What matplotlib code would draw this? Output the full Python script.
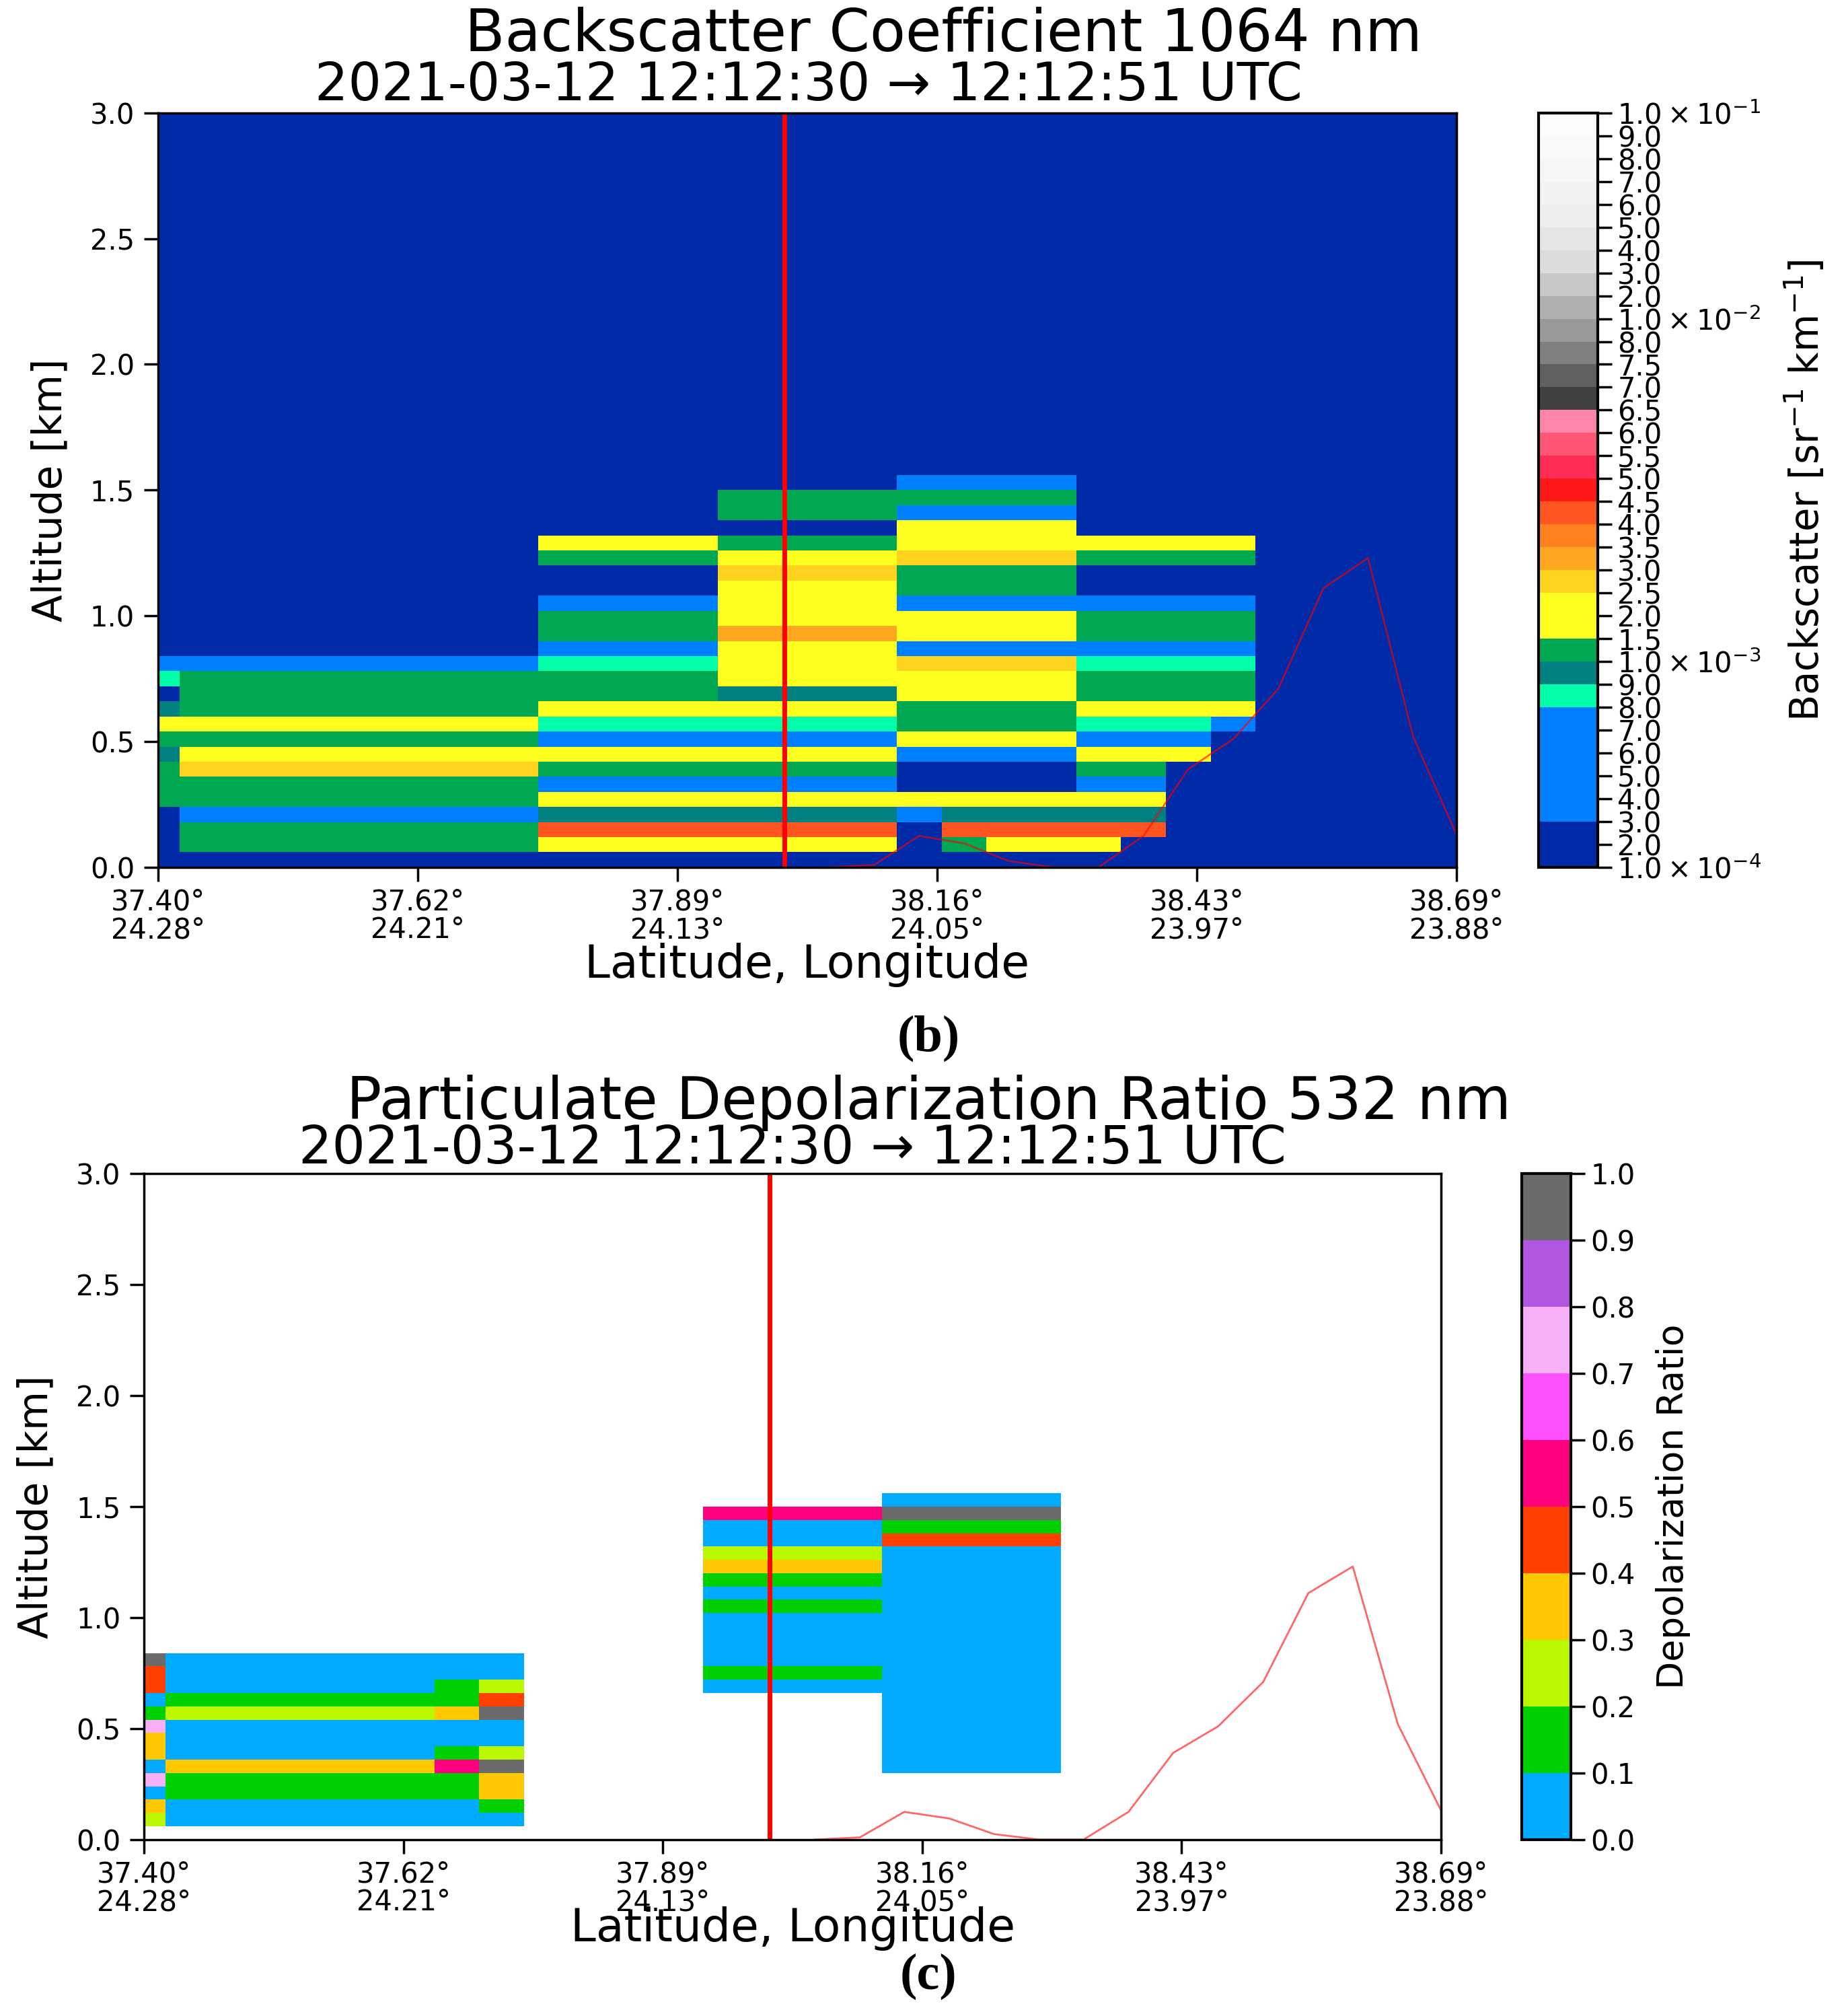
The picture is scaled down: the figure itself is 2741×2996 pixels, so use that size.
import numpy as np
import matplotlib
matplotlib.use("Agg")
import matplotlib.pyplot as plt
from matplotlib.colors import ListedColormap, BoundaryNorm

# ---------------- data ----------------
bin_km = 0.06          # vertical bin size [km]
n_bins = 50            # 0 - 3 km

# x axis: seconds after 12:12:30 UTC
tick_s = [0.0, 4.2, 8.4, 12.6, 16.8, 21.0]
tick_lat = ['37.40°', '37.62°', '37.89°', '38.16°', '38.43°', '38.69°']
tick_lon = ['24.28°', '24.21°', '24.13°', '24.05°', '23.97°', '23.88°']

# backscatter 1064 nm, profiles between these times, values per 60 m bin from ground
# units 1e-3 sr-1 km-1
bsc_edges_s = [0.0, 0.35, 6.15, 9.05, 11.95, 12.675, 13.40, 14.85,
               15.575, 16.30, 17.025, 17.75, 21.0]
bsc_p0 = [0.15, 0.15, 0.15, 0.15, 1.25, 1.25, 1.25, 0.95, 1.25, 1.8, 0.95, 0.15, 0.85, 0.5]
bsc_p1 = [0.15, 1.25, 1.25, 0.5, 1.25, 1.25, 2.75, 1.8, 1.25, 1.8, 1.25, 1.25, 1.25, 0.5]
bsc_p2 = [0.15, 1.8, 4.25, 0.95, 1.8, 0.5, 1.25, 1.8, 0.5, 0.85, 1.8, 1.25, 1.25, 0.85,
          0.5, 1.25, 1.25, 0.5, 0.15, 0.15, 1.25, 1.8]
bsc_p3 = [0.15, 1.8, 4.25, 0.95, 1.8, 0.5, 1.25, 1.8, 0.5, 0.85, 1.8, 0.95, 1.8, 1.8,
          1.8, 3.25, 1.8, 1.8, 1.8, 2.75, 1.8, 1.25, 0.15, 1.25, 1.25]
bsc_p4a = [0.15, 0.15, 0.15, 0.5, 1.8, 0.15, 0.15, 0.5, 1.8, 1.25, 1.25, 1.8, 1.8, 2.75,
           0.5, 1.8, 1.8, 0.5, 1.25, 1.25, 2.75, 1.8, 1.8, 0.5, 1.25, 0.5]
bsc_p4b = [0.15, 1.25, 4.25, 0.95, 1.8, 0.15, 0.15, 0.5, 1.8, 1.25, 1.25, 1.8, 1.8, 2.75,
           0.5, 1.8, 1.8, 0.5, 1.25, 1.25, 2.75, 1.8, 1.8, 0.5, 1.25, 0.5]
bsc_p4c = [0.15, 1.8, 4.25, 0.95, 1.8, 0.15, 0.15, 0.5, 1.8, 1.25, 1.25, 1.8, 1.8, 2.75,
           0.5, 1.8, 1.8, 0.5, 1.25, 1.25, 2.75, 1.8, 1.8, 0.5, 1.25, 0.5]
bsc_p5a = [0.15, 1.8, 4.25, 0.95, 1.8, 0.5, 1.25, 1.8, 0.5, 0.85, 1.8, 1.25, 1.25, 0.85,
           0.5, 1.25, 1.25, 0.5, 0.15, 0.15, 1.25, 1.8]
bsc_p5b = [0.15, 0.15, 4.25, 0.95, 1.8, 0.5, 1.25, 1.8, 0.5, 0.85, 1.8, 1.25, 1.25, 0.85,
           0.5, 1.25, 1.25, 0.5, 0.15, 0.15, 1.25, 1.8]
bsc_p5c = [0.15, 0.15, 0.15, 0.15, 0.15, 0.15, 0.15, 1.8, 0.5, 0.85, 1.8, 1.25, 1.25, 0.85,
           0.5, 1.25, 1.25, 0.5, 0.15, 0.15, 1.25, 1.8]
bsc_p5d = [0.15, 0.15, 0.15, 0.15, 0.15, 0.15, 0.15, 0.15, 0.15, 0.5, 1.8, 1.25, 1.25, 0.85,
           0.5, 1.25, 1.25, 0.5, 0.15, 0.15, 1.25, 1.8]
bsc_profiles = [bsc_p0, bsc_p1, bsc_p2, bsc_p3, bsc_p4a, bsc_p4b, bsc_p4c,
                bsc_p5a, bsc_p5b, bsc_p5c, bsc_p5d, []]
bsc_background = 0.15

# particulate depolarization ratio 532 nm
dep_edges_s = [0.0, 0.35, 4.70, 5.425, 6.15, 9.05, 11.95, 14.85, 21.0]
dep_first_bin = [1, 1, 1, 1, 0, 11, 5, 0]
dep_q0 = [0.25, 0.35, 0.05, 0.75, 0.05, 0.35, 0.35, 0.75, 0.15, 0.05, 0.45, 0.45, 0.95]
dep_q1 = [0.05, 0.05, 0.15, 0.15, 0.35, 0.05, 0.05, 0.05, 0.25, 0.15, 0.05, 0.05, 0.05]
dep_q2 = [0.05, 0.05, 0.15, 0.15, 0.55, 0.15, 0.05, 0.05, 0.35, 0.15, 0.15, 0.05, 0.05]
dep_q3 = [0.05, 0.15, 0.35, 0.35, 0.95, 0.25, 0.05, 0.05, 0.95, 0.45, 0.25, 0.05, 0.05]
dep_m1 = [0.05, 0.15, 0.05, 0.05, 0.05, 0.05, 0.15, 0.05, 0.15, 0.35, 0.25, 0.05, 0.05, 0.55]
dep_m2 = [0.05] * 17 + [0.45, 0.15, 0.95, 0.05]
dep_profiles = [dep_q0, dep_q1, dep_q2, dep_q3, [], dep_m1, dep_m2, []]

# surface elevation along track
surface_t = [10.86, 11.59, 12.31, 13.04, 13.76, 14.49, 15.21, 15.94, 16.66,
             17.39, 18.12, 18.85, 19.57, 20.30, 21.02]
surface_h = [0.0, 0.01, 0.125, 0.095, 0.025, 0.0, 0.0, 0.125, 0.39,
             0.51, 0.71, 1.11, 1.23, 0.52, 0.12]
marker_t = 10.13

# colour scales
bsc_bounds = [1e-4, 2e-4, 3e-4, 4e-4, 5e-4, 6e-4, 7e-4, 8e-4, 9e-4,
              1.0e-3, 1.5e-3, 2.0e-3, 2.5e-3, 3.0e-3, 3.5e-3, 4.0e-3, 4.5e-3,
              5.0e-3, 5.5e-3, 6.0e-3, 6.5e-3, 7.0e-3, 7.5e-3, 8.0e-3,
              1e-2, 2e-2, 3e-2, 4e-2, 5e-2, 6e-2, 7e-2, 8e-2, 9e-2, 1e-1]
bsc_colors = ['#002aa8', '#002aa8', '#0080ff', '#0080ff', '#0080ff', '#0080ff', '#0080ff',
              '#00ffa8', '#008080', '#00a852', '#ffff20', '#ffff20', '#ffd21f', '#ffa81f',
              '#ff821f', '#ff5520', '#ff1818', '#ff2d55', '#ff5577', '#ff85a8',
              '#404040', '#606060', '#808080', '#999999', '#b0b0b0', '#c8c8c8',
              '#dcdcdc', '#e6e6e6', '#eeeeee', '#f2f2f2', '#f6f6f6', '#f9f9f9', '#fcfcfc']
dep_bounds = [0.0, 0.1, 0.2, 0.3, 0.4, 0.5, 0.6, 0.7, 0.8, 0.9, 1.0]
dep_colors = ['#00aaff', '#00d000', '#bbf700', '#ffc800', '#ff4000',
              '#ff0080', '#ff50ff', '#f7b0f7', '#b056e0', '#6b6b6b']

# ---------------- grids ----------------
alt_edges = np.arange(n_bins + 1) * bin_km

bsc = np.full((n_bins, len(bsc_profiles)), bsc_background)
for j, prof in enumerate(bsc_profiles):
    bsc[:len(prof), j] = prof
bsc = bsc * 1e-3

dep = np.full((n_bins, len(dep_profiles)), np.nan)
for j, prof in enumerate(dep_profiles):
    k = dep_first_bin[j]
    dep[k:k + len(prof), j] = prof
dep = np.ma.masked_invalid(dep)


def bsc_label(v):
    e = int(np.floor(np.log10(v) + 1e-9))
    m = v / 10 ** e
    if abs(m - 1) < 1e-6:
        return r'$1.0\times10^{%d}$' % e
    return '%.1f' % m


plt.rcParams['font.family'] = ['DejaVu Sans']

fig = plt.figure(figsize=(27.41, 29.96), dpi=100)

ax1 = fig.add_axes([0.0857, 0.5698, 0.7041, 0.3742])
cax1 = fig.add_axes([0.8344, 0.5698, 0.0321, 0.3742])
ax2 = fig.add_axes([0.0781, 0.0875, 0.7034, 0.3304])
cax2 = fig.add_axes([0.8253, 0.0875, 0.0266, 0.3304])

m1 = ax1.pcolormesh(bsc_edges_s, alt_edges, bsc,
                    cmap=ListedColormap(bsc_colors),
                    norm=BoundaryNorm(bsc_bounds, len(bsc_colors)))
m2 = ax2.pcolormesh(dep_edges_s, alt_edges, dep,
                    cmap=ListedColormap(dep_colors),
                    norm=BoundaryNorm(dep_bounds, len(dep_colors)))

for ax in (ax1, ax2):
    ax.axvline(marker_t, color='red', lw=5)
    ax.plot(surface_t, surface_h, color='red', alpha=0.6, lw=2)
    ax.set_xlim(0, 21)
    ax.set_ylim(0, 3)
    ax.set_xticks(tick_s)
    ax.set_xticklabels([a + '\n' + b for a, b in zip(tick_lat, tick_lon)],
                       linespacing=1.0)
    ax.set_yticks(np.arange(0, 3.01, 0.5))
    ax.set_yticklabels(['%.1f' % v for v in np.arange(0, 3.01, 0.5)])
    ax.tick_params(labelsize=30, length=15, width=2.5)
    ax.tick_params(axis='x', pad=7)
    ax.tick_params(axis='y', pad=10)
    for s in ax.spines.values():
        s.set_linewidth(2.5)
    ax.set_xlabel('Latitude, Longitude', fontsize=49, va='top')
    ax.xaxis.set_label_coords(0.5, -0.100)
    ax.set_ylabel('Altitude [km]', fontsize=43, va='center')
    ax.yaxis.set_label_coords(-0.083, 0.5)

cb1 = fig.colorbar(m1, cax=cax1, ticks=bsc_bounds, spacing='uniform')
cb1.ax.set_yticklabels([bsc_label(v) for v in bsc_bounds])
cb1.set_label(r'Backscatter [sr$^{-1}$ km$^{-1}$]', fontsize=41.5, va='center')
cb1.ax.yaxis.set_label_coords(4.51, 0.5)

cb2 = fig.colorbar(m2, cax=cax2, ticks=dep_bounds)
cb2.ax.set_yticklabels(['%.1f' % v for v in dep_bounds])
cb2.set_label('Depolarization Ratio', fontsize=38.5, va='center')
cb2.ax.yaxis.set_label_coords(3.08, 0.5)

for cb in (cb1, cb2):
    cb.ax.tick_params(labelsize=30, length=15, width=2.5, pad=6)
    cb.outline.set_linewidth(3)

fig.text(0.5115, 0.9746, 'Backscatter Coefficient 1064 nm', fontsize=62.5, ha='center', va='baseline')
fig.text(0.4385, 0.9503, '2021-03-12 12:12:30 → 12:12:51 UTC', fontsize=56, ha='center', va='baseline')
fig.text(0.5035, 0.4450, 'Particulate Depolarization Ratio 532 nm', fontsize=62.5, ha='center', va='baseline')
fig.text(0.4298, 0.4229, '2021-03-12 12:12:30 → 12:12:51 UTC', fontsize=56, ha='center', va='baseline')

fig.text(0.5035, 0.4847, '(b)', fontsize=55, fontweight='bold', family='Liberation Serif',
         ha='center', va='center')
fig.text(0.5035, 0.0197, '(c)', fontsize=55, fontweight='bold', family='Liberation Serif',
         ha='center', va='center')

fig.savefig('out.png', dpi=100)
